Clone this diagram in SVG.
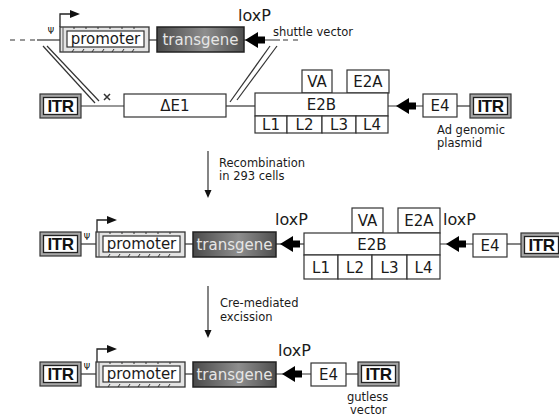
<svg xmlns="http://www.w3.org/2000/svg" xmlns:xlink="http://www.w3.org/1999/xlink" width="559" height="416" viewBox="0 0 559 416">
<style>
  .t { font-family: "DejaVu Sans", "Liberation Sans", sans-serif; fill: #1a1a1a; }
  .box { font-size: 15px; text-anchor: middle; }
  .lbl { font-size: 11.5px; }
  .lox { font-size: 16px; }
  .tg { font-size: 15px; text-anchor: middle; fill: #e6e6e6; }
  .itrt { font-family: "Liberation Sans", "DejaVu Sans", sans-serif; font-weight: bold; font-size: 17px; text-anchor: middle; fill: #111; letter-spacing: -0.5px; }
  .psi { font-family: "DejaVu Sans", sans-serif; font-size: 8px; text-anchor: middle; fill: #000; }
  .wb { fill: #fff; stroke: #333; stroke-width: 1.2; }
  .ln { stroke: #333; stroke-width: 1.2; fill: none; }
  .tgbox { fill: url(#tgGrad); stroke: #222; stroke-width: 1.5; }
</style>
<defs>
  <linearGradient id="tgGrad" x1="0" y1="0" x2="1" y2="0">
    <stop offset="0" stop-color="#4a4a4a"/>
    <stop offset="0.55" stop-color="#8e8e8e"/>
    <stop offset="1" stop-color="#4e4e4e"/>
  </linearGradient>
  <path id="loxArrow" d="M0,0 L13,-8 L13,-3.5 L20,-3.5 L20,3.5 L13,3.5 L13,8 Z" fill="#000"/>
  <g id="prom">
    <rect x="0" y="0" width="89" height="25" fill="#e4e4e4" stroke="#333" stroke-width="1.3"/>
    <line x1="3" y1="0" x2="3" y2="25" stroke="#555" stroke-width="1"/>
    <rect x="7" y="4" width="77" height="16" fill="#fff" stroke="#333" stroke-width="1.2"/>
    <path d="M12,25 l2,-3 M22,25 l2,-3 M32,25 l2,-3 M42,25 l2,-3 M52,25 l2,-3 M62,25 l2,-3 M72,25 l2,-3 M14,0 l0,2 M26,0 l0,2 M38,0 l0,2 M50,0 l0,2 M62,0 l0,2 M74,0 l0,2" stroke="#333" stroke-width="1"/>
  </g>
  <g id="itr">
    <rect x="0" y="0" width="41" height="24" fill="#a6a6a6" stroke="#333" stroke-width="1.2"/>
    <rect x="3.5" y="3.5" width="34" height="17" fill="#fff" stroke="#222" stroke-width="1.3"/>
  </g>
  <path id="promArrow" d="M0,0 V-13 H10" fill="none" stroke="#222" stroke-width="1.3"/>
  <path id="promHead" d="M0,-4 L10,0 L0,4 Z" fill="#111"/>
</defs>

<g id="connectors">
  <line class="ln" x1="10" y1="40" x2="37" y2="40" stroke-dasharray="5,5"/>
  <line class="ln" x1="37" y1="40" x2="60" y2="40"/>
  <line class="ln" x1="149" y1="40" x2="157" y2="40"/>
  <line class="ln" x1="244" y1="40" x2="280" y2="40"/>
  <line class="ln" x1="283" y1="40" x2="298" y2="40" stroke-dasharray="5,5"/>
  <use xlink:href="#loxArrow" href="#loxArrow" transform="translate(245,40)"/>
  <line class="ln" x1="43" y1="46" x2="95" y2="103" stroke-width="1"/>
  <line class="ln" x1="47" y1="46" x2="99" y2="101" stroke-width="1"/>
  <line class="ln" x1="270" y1="46" x2="230" y2="102" stroke-width="1"/>
  <line class="ln" x1="277" y1="46" x2="237" y2="100" stroke-width="1"/>
  <path d="M104,94 L110,100 M110,94 L104,100" stroke="#333" stroke-width="1.5"/>
  <line class="ln" x1="81" y1="106" x2="124" y2="106"/>
  <line class="ln" x1="226" y1="106" x2="255" y2="106"/>
  <line class="ln" x1="388" y1="106" x2="423" y2="106"/>
  <use xlink:href="#loxArrow" href="#loxArrow" transform="translate(396,106)"/>
  <line class="ln" x1="457" y1="106" x2="470" y2="106"/>
  <line class="ln" x1="208" y1="151" x2="208" y2="191"/>
  <path d="M204.5,190 L211.5,190 L208,198 Z" fill="#111"/>
  <line class="ln" x1="81" y1="244" x2="97" y2="244"/>
  <line class="ln" x1="185" y1="244" x2="193" y2="244"/>
  <line class="ln" x1="276" y1="244" x2="304" y2="244"/>
  <use xlink:href="#loxArrow" href="#loxArrow" transform="translate(280,244)"/>
  <line class="ln" x1="440" y1="244" x2="473" y2="244"/>
  <use xlink:href="#loxArrow" href="#loxArrow" transform="translate(446,244)"/>
  <line class="ln" x1="507" y1="244" x2="521" y2="244"/>
  <line class="ln" x1="208" y1="286" x2="208" y2="331"/>
  <path d="M204.5,330 L211.5,330 L208,338 Z" fill="#111"/>
  <line class="ln" x1="81" y1="374" x2="97" y2="374"/>
  <line class="ln" x1="185" y1="374" x2="193" y2="374"/>
  <line class="ln" x1="276" y1="374" x2="311" y2="374"/>
  <use xlink:href="#loxArrow" href="#loxArrow" transform="translate(282,374)"/>
  <line class="ln" x1="346" y1="374" x2="358" y2="374"/>
</g>

<g id="psi-top"><text class="psi" x="51" y="34">Ψ</text></g>
<g id="promoter-top">
  <use xlink:href="#promArrow" href="#promArrow" x="60" y="27"/>
  <use xlink:href="#promHead" href="#promHead" x="70" y="14"/>
  <use xlink:href="#prom" href="#prom" x="60" y="27"/>
  <text class="t box" x="105.5" y="44">promoter</text>
</g>
<g id="transgene-top">
  <rect class="tgbox" x="157" y="27" width="87" height="25"/>
  <text class="t tg" x="200.5" y="45">transgene</text>
</g>
<g id="loxP-top"><text class="t lox" x="238" y="21">loxP</text></g>
<g id="label-shuttle"><text class="t lbl" x="273" y="36">shuttle vector</text></g>

<g id="itr-left-2">
  <use xlink:href="#itr" href="#itr" x="40" y="94"/>
  <text class="itrt" x="60.5" y="112">ITR</text>
</g>
<g id="dE1">
  <rect class="wb" x="124" y="94" width="102" height="23"/>
  <text class="t box" x="175" y="111">ΔE1</text>
</g>
<g id="VA-2">
  <rect class="wb" x="302" y="70" width="30" height="23"/>
  <text class="t box" x="317" y="87">VA</text>
</g>
<g id="E2A-2">
  <rect class="wb" x="347" y="70" width="42" height="23"/>
  <text class="t box" x="368" y="87">E2A</text>
</g>
<g id="E2B-2">
  <rect class="wb" x="255" y="93" width="133" height="23"/>
  <text class="t box" x="321.5" y="110">E2B</text>
</g>
<g id="L-2">
  <rect class="wb" x="255" y="116" width="32" height="17"/>
  <rect class="wb" x="287" y="116" width="35" height="17"/>
  <rect class="wb" x="322" y="116" width="34" height="17"/>
  <rect class="wb" x="356" y="116" width="32" height="17"/>
  <text class="t box" x="271" y="130">L1</text>
  <text class="t box" x="304.5" y="130">L2</text>
  <text class="t box" x="339" y="130">L3</text>
  <text class="t box" x="372" y="130">L4</text>
</g>
<g id="E4-2">
  <rect class="wb" x="423" y="94" width="34" height="23"/>
  <text class="t box" x="440" y="111">E4</text>
</g>
<g id="itr-right-2">
  <use xlink:href="#itr" href="#itr" x="470" y="94"/>
  <text class="itrt" x="490.5" y="112">ITR</text>
</g>
<g id="label-plasmid">
  <text class="t lbl" x="437" y="134">Ad genomic</text>
  <text class="t lbl" x="437" y="147">plasmid</text>
</g>
<g id="label-recomb">
  <text class="t lbl" x="219" y="167" font-size="11">Recombination</text>
  <text class="t lbl" x="219" y="180" font-size="11">in 293 cells</text>
</g>

<g id="itr-left-3">
  <use xlink:href="#itr" href="#itr" x="40" y="232"/>
  <text class="itrt" x="60.5" y="250">ITR</text>
</g>
<g id="psi-mid"><text class="psi" x="87" y="240">Ψ</text></g>
<g id="promoter-mid">
  <use xlink:href="#promArrow" href="#promArrow" x="97" y="233"/>
  <use xlink:href="#promHead" href="#promHead" x="107" y="220"/>
  <use xlink:href="#prom" href="#prom" x="96" y="232"/>
  <text class="t box" x="141.5" y="249">promoter</text>
</g>
<g id="transgene-mid">
  <rect class="tgbox" x="193" y="232" width="83" height="25"/>
  <text class="t tg" x="234.5" y="250">transgene</text>
</g>
<g id="loxP-mid1"><text class="t lox" x="275" y="225">loxP</text></g>
<g id="VA-3">
  <rect class="wb" x="352" y="208" width="31" height="25"/>
  <text class="t box" x="367.5" y="226">VA</text>
</g>
<g id="E2A-3">
  <rect class="wb" x="398" y="208" width="42" height="25"/>
  <text class="t box" x="419" y="226">E2A</text>
</g>
<g id="E2B-3">
  <rect class="wb" x="304" y="233" width="136" height="22"/>
  <text class="t box" x="372" y="250">E2B</text>
</g>
<g id="L-3">
  <rect class="wb" x="304" y="255" width="34" height="24"/>
  <rect class="wb" x="338" y="255" width="34" height="24"/>
  <rect class="wb" x="372" y="255" width="35" height="24"/>
  <rect class="wb" x="407" y="255" width="33" height="24"/>
  <text class="t box" x="321" y="273">L1</text>
  <text class="t box" x="355" y="273">L2</text>
  <text class="t box" x="389.5" y="273">L3</text>
  <text class="t box" x="423.5" y="273">L4</text>
</g>
<g id="loxP-mid2"><text class="t lox" x="443" y="225">loxP</text></g>
<g id="E4-3">
  <rect class="wb" x="473" y="234" width="34" height="23"/>
  <text class="t box" x="490" y="251">E4</text>
</g>
<g id="itr-right-3">
  <use xlink:href="#itr" href="#itr" x="521" y="233"/>
  <text class="itrt" x="541.5" y="251">ITR</text>
</g>
<g id="label-cre">
  <text class="t lbl" x="220" y="307" font-size="11">Cre-mediated</text>
  <text class="t lbl" x="220" y="321" font-size="11">excission</text>
</g>

<g id="itr-left-4">
  <use xlink:href="#itr" href="#itr" x="40" y="362"/>
  <text class="itrt" x="60.5" y="380">ITR</text>
</g>
<g id="psi-bot"><text class="psi" x="87" y="370">Ψ</text></g>
<g id="promoter-bot">
  <use xlink:href="#promArrow" href="#promArrow" x="97" y="362"/>
  <use xlink:href="#promHead" href="#promHead" x="107" y="349"/>
  <use xlink:href="#prom" href="#prom" x="96" y="362"/>
  <text class="t box" x="141.5" y="379">promoter</text>
</g>
<g id="transgene-bot">
  <rect class="tgbox" x="193" y="362" width="83" height="25"/>
  <text class="t tg" x="234.5" y="380">transgene</text>
</g>
<g id="loxP-bot"><text class="t lox" x="278" y="356">loxP</text></g>
<g id="E4-4">
  <rect class="wb" x="311" y="363" width="35" height="23"/>
  <text class="t box" x="328.5" y="380">E4</text>
</g>
<g id="itr-right-4">
  <use xlink:href="#itr" href="#itr" x="358" y="362"/>
  <text class="itrt" x="378.5" y="380">ITR</text>
</g>
<g id="label-gutless">
  <text class="t lbl" x="347" y="401" font-size="11">gutless</text>
  <text class="t lbl" x="350" y="414" font-size="11">vector</text>
</g>
</svg>
